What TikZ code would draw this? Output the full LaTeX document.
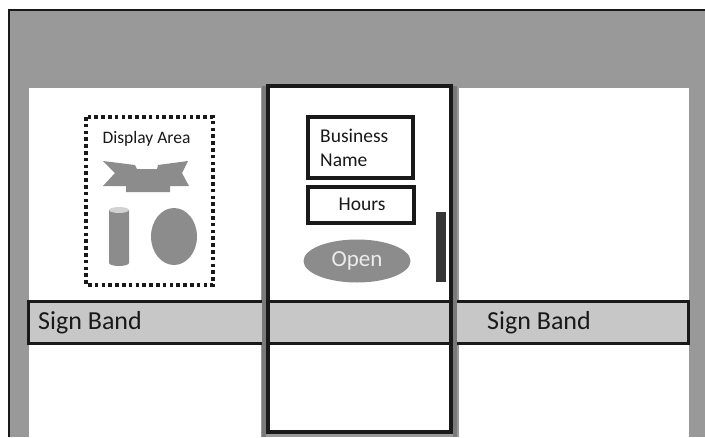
\documentclass[tikz,border=0pt]{standalone}
\usepackage{fontspec}
\setmainfont{Carlito}
\usetikzlibrary{shapes.geometric}
\definecolor{wallgray}{gray}{0.60}
\definecolor{bandgray}{gray}{0.78}
\definecolor{shapegray}{gray}{0.55}
\definecolor{ink}{gray}{0.10}
\tikzset{
  x=1pt,y=-1pt,
  winfill/.style={fill=white,draw=none},
  doorframe/.style={draw=ink,line width=3.2pt},
  bandlabel/.style={inner sep=0pt,text=ink,font=\fontsize{26}{28}\selectfont},
  smalltext/.style={inner sep=0pt,text=ink,font=\fontsize{19.5}{24}\selectfont},
  solidshape/.style={fill=shapegray,draw=none},
}
\begin{document}
\begin{tikzpicture}
\useasboundingbox (0,0) rectangle (705,437);
\fill[white] (0,0) rectangle (705,437);
% wall
\fill[wallgray] (9,10) rectangle (705,437);
\draw[draw=ink,line width=1.6pt] (9,437) -- (9,10) -- (705,10);
% windows
\fill[winfill] (29,88) rectangle (261,437);
\fill[winfill] (268,86) rectangle (451,433);
\fill[winfill] (459,88) rectangle (689,437);
% sign band
\fill[bandgray] (28,301) rectangle (688,343);
\draw[draw=ink,line width=3pt] (28,301) rectangle (688,343);
% door
\draw[draw=wallgray!80!black,line width=4pt] (264,86) -- (264,437) (455,86) -- (455,437);
\draw[doorframe] (268,86) rectangle (451,432);
% display area
\draw[draw=ink,line width=3.6pt,dash pattern=on 3.6pt off 3.2pt] (86,117) rectangle (213,285);
\node[smalltext,anchor=center,font=\fontsize{17.5}{20}\selectfont] (display) at (146.5,139) {Display Area};
% ribbon
\fill[shapegray] (103,161) -- (135,165) -- (137,169) -- (157,169) -- (158,165) -- (188,161) -- (182,173) -- (189,186) -- (170,186) -- (170,192) -- (126,192) -- (126,186) -- (103,186) -- (115,173) -- cycle;
% cylinder
\fill[solidshape] (109,210) -- (129,210) -- (129,263) arc[start angle=0,end angle=180,x radius=10,y radius=3] -- cycle;
\fill[gray!35] (119,210) ellipse[x radius=10,y radius=3];
% oval
\node[ellipse,solidshape,minimum width=46pt,minimum height=57pt,inner sep=0pt] (oval) at (174,236.5) {};
% business name
\node[draw=ink,line width=3.4pt,fill=white,minimum width=105pt,minimum height=61pt,inner sep=0pt] (business) at (360.5,147.5) {};
\node[smalltext,anchor=west,align=left] (bname) at (320,148) {Business\\Name};
% hours
\node[draw=ink,line width=3.4pt,fill=white,minimum width=106pt,minimum height=36pt,inner sep=0pt] (hours) at (361,205) {};
\node[smalltext] (hourstext) at (362,204) {Hours};
% open
\node[ellipse,fill=shapegray,minimum width=107pt,minimum height=43pt,inner sep=0pt,text=gray!15,font=\fontsize{23}{25}\selectfont] (open) at (357,261) {Open};
% bar
\fill[gray!42!black] (436,212) rectangle (446,282);
% band labels
\node[bandlabel,anchor=west] (s1) at (38,322.5) {Sign Band};
\node[bandlabel,anchor=west] (s2) at (487,322.5) {Sign Band};
\end{tikzpicture}
\end{document}
